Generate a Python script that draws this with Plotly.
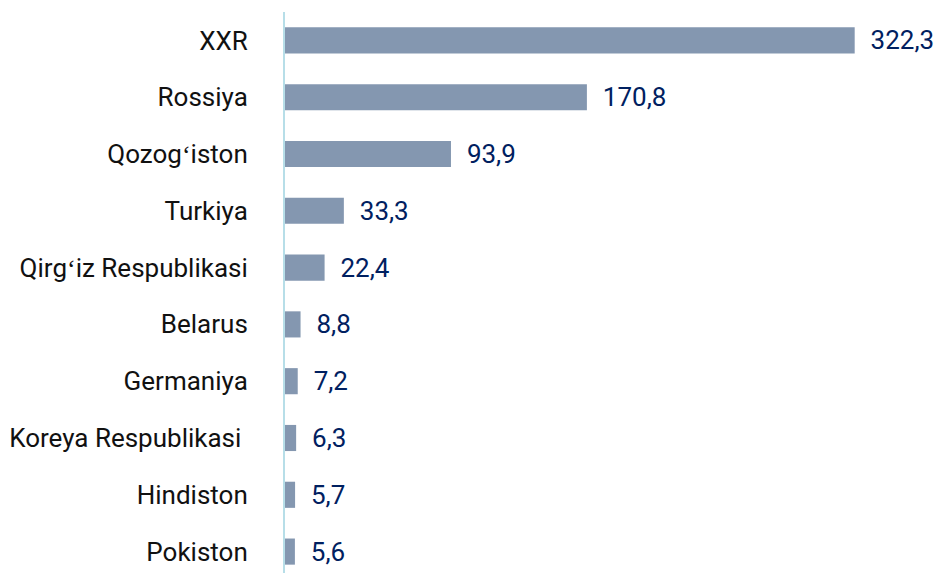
import plotly.graph_objects as go

categories = ["XXR", "Rossiya", "Qozog\u02bbiston", "Turkiya", "Qirg\u02bbiz Respublikasi",
              "Belarus", "Germaniya", "Koreya Respublikasi\u00a0", "Hindiston", "Pokiston"]
values = [322.3, 170.8, 93.9, 33.3, 22.4, 8.8, 7.2, 6.3, 5.7, 5.6]

fig = go.Figure(go.Bar(
    x=values, y=categories, orientation="h",
    marker=dict(color="#8497B0", line=dict(width=0)),
    width=0.46,
    text=values, texttemplate="\u00a0\u00a0%{x:.1f}", textposition="outside",
    constraintext="none",
    textfont=dict(family="Roboto", size=26, color="#002060"),
    cliponaxis=False,
))

fig.update_layout(
    width=939, height=573,
    margin=dict(l=285, r=0, t=12, b=0),
    paper_bgcolor="white", plot_bgcolor="white",
    separators=", ",
    showlegend=False,
    font=dict(family="Roboto", size=26, color="#000000"),
    xaxis=dict(range=[0, 370], visible=False, showgrid=False, zeroline=False),
    yaxis=dict(range=[9.377, -0.5], showgrid=False, zeroline=False,
               showline=True, linecolor="#B7DEE8", linewidth=2,
               ticks="", ticklabelstandoff=30,
               tickfont=dict(family="Roboto", size=26, color="#111111")),
)

fig.write_html("out.html", config={"displayModeBar": False},
               post_script="document.body.style.margin='0';")
